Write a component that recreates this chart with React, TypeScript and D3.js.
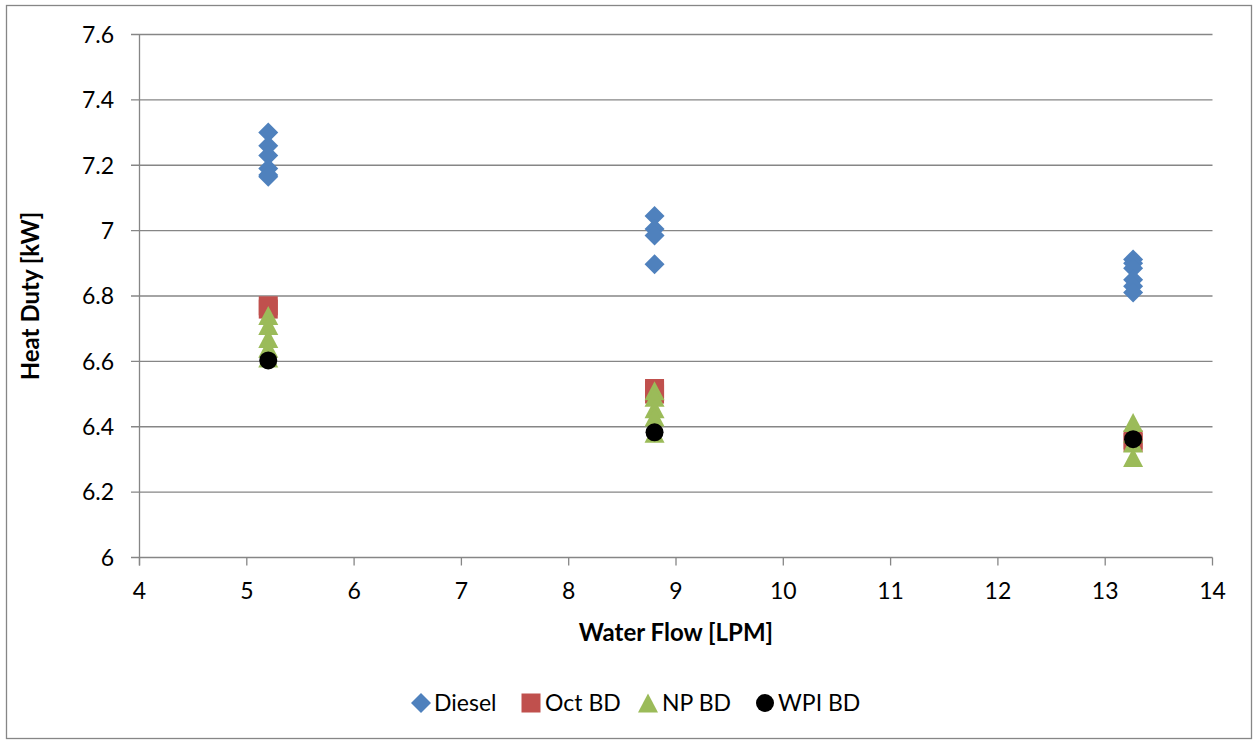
import React from "react";
import * as d3 from "d3";

const dieselX = [5.2, 5.2, 5.2, 5.2, 5.2, 5.2, 8.8, 8.8, 8.8, 8.8, 13.26, 13.26, 13.26, 13.26, 13.26, 13.26];
const dieselY = [7.3, 7.26, 7.23, 7.19, 7.17, 7.165, 7.045, 7.005, 6.985, 6.897, 6.912, 6.9, 6.885, 6.85, 6.83, 6.811];
const octX = [5.2, 5.2, 8.8, 8.8, 8.8, 13.26, 13.26];
const octY = [6.77, 6.76, 6.517, 6.51, 6.5, 6.36, 6.352];
const npX = [5.2, 5.2, 5.2, 5.2, 5.2, 8.8, 8.8, 8.8, 8.8, 8.8, 13.26, 13.26, 13.26, 13.26];
const npY = [6.74, 6.71, 6.67, 6.64, 6.61, 6.51, 6.49, 6.455, 6.43, 6.38, 6.413, 6.38, 6.35, 6.306];
const wpiX = [5.2, 8.8, 13.26];
const wpiY = [6.603, 6.383, 6.362];

const xTicks = [4, 5, 6, 7, 8, 9, 10, 11, 12, 13, 14];
const yTicks = [6, 6.2, 6.4, 6.6, 6.8, 7, 7.2, 7.4, 7.6];

const seriesNames = ["Diesel", "Oct BD", "NP BD", "WPI BD"];
const seriesColors = ["#4F81BD", "#C0504D", "#9BBB59", "#000000"];

const FONT = "Lato, 'Liberation Sans', sans-serif";
const FS = 23;

function Marker({ kind, x, y, color }: { kind: number; x: number; y: number; color: string }) {
  if (kind === 0) {
    const r = 10;
    return <path d={`M${x},${y - r}L${x + r},${y}L${x},${y + r}L${x - r},${y}Z`} fill={color} />;
  }
  if (kind === 1) {
    const s = 19;
    return <rect x={x - s / 2} y={y - s / 2} width={s} height={s} fill={color} />;
  }
  if (kind === 2) {
    const h = 19, w = 20;
    return <path d={`M${x},${y - h / 2}L${x + w / 2},${y + h / 2}L${x - w / 2},${y + h / 2}Z`} fill={color} />;
  }
  return <circle cx={x} cy={y} r={9} fill={color} />;
}

export default function App() {
  const W = 1253, H = 740;
  const x = d3.scaleLinear().domain([4, 14]).range([139.5, 1212.5]);
  const y = d3.scaleLinear().domain([6, 7.6]).range([557.5, 34.5]);
  const series = [
    { xs: dieselX, ys: dieselY },
    { xs: octX, ys: octY },
    { xs: npX, ys: npY },
    { xs: wpiX, ys: wpiY },
  ];
  const legendItems = [
    { mx: 421, tx: 434 },
    { mx: 531, tx: 545 },
    { mx: 648, tx: 662 },
    { mx: 765, tx: 778 },
  ];
  const gridColor = "#868686";
  return (
    <svg width={W} height={H} style={{ position: "absolute", left: 0, top: 0 }} fontFamily={FONT}>
      <rect x={0} y={0} width={W} height={H} fill="#fff" />
      <rect x={6.5} y={5.5} width={1245} height={733} fill="none" stroke="#868686" strokeWidth={1.3} />
      {yTicks.map((t) => (
        <g key={"y" + t}>
          <line x1={131} x2={1212.5} y1={y(t)} y2={y(t)} stroke={gridColor} strokeWidth={1.3} />
          <text x={114} y={y(t)} dy="0.36em" textAnchor="end" fontSize={FS} fill="#000">
            {d3.format("")(t)}
          </text>
        </g>
      ))}
      <line x1={x(4)} x2={x(4)} y1={y(7.6)} y2={y(6) + 8} stroke={gridColor} strokeWidth={1.3} />
      {xTicks.map((t) => (
        <g key={"x" + t}>
          <line x1={x(t)} x2={x(t)} y1={y(6)} y2={y(6) + 8} stroke={gridColor} strokeWidth={1.3} />
          <text x={x(t)} y={599} textAnchor="middle" fontSize={FS} fill="#000">
            {t}
          </text>
        </g>
      ))}
      <text x={676} y={641} textAnchor="middle" fontSize={24} fontWeight="bold">
        Water Flow [LPM]
      </text>
      <text transform="translate(39,296) rotate(-90)" textAnchor="middle" fontSize={24} fontWeight="bold">
        Heat Duty [kW]
      </text>
      {series.map((s, si) =>
        s.xs.map((xv, i) => (
          <Marker key={si + "-" + i} kind={si} x={x(xv)} y={y(s.ys[i])} color={seriesColors[si]} />
        ))
      )}
      {legendItems.map((li, i) => (
        <g key={"l" + i}>
          <Marker kind={i} x={li.mx} y={703} color={seriesColors[i]} />
          <text x={li.tx} y={703} dy="0.36em" fontSize={FS}>
            {seriesNames[i]}
          </text>
        </g>
      ))}
    </svg>
  );
}
